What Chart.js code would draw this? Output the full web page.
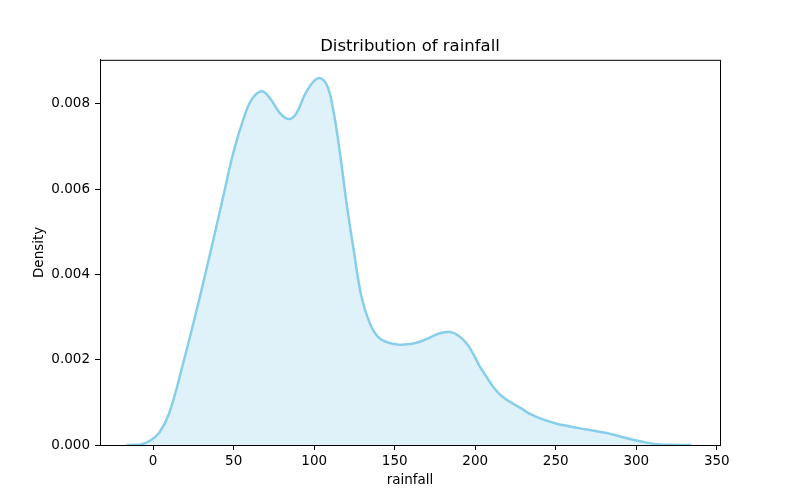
<!DOCTYPE html>
<html>
<head>
<meta charset="utf-8">
<script src="https://cdn.jsdelivr.net/npm/chart.js@4"></script>
<style>
    body { margin: 0; background: #fff; }
    #wrap { width: 800px; height: 500px; }
</style>
</head>
<body>
<div id="wrap"><canvas id="kdeChart" width="800" height="500"></canvas></div>
<script>
// KDE curve
const rainfall = [-16.5, -8, -2, 4, 10, 18.6, 29, 37.3, 43.5, 49.7, 55.9, 61.1, 67.3, 72.5, 78.7, 84.3, 89, 95.3, 102.5, 107.7, 111.8, 116, 120.1, 124.2, 129.4, 134.6, 139.8, 146, 153.2, 160, 165.6, 172, 178, 184.3, 189, 194.7, 199, 203, 207, 211.2, 216, 221.6, 228, 234, 242, 250.6, 258, 265, 273, 281.6, 290, 300.2, 307, 314.7, 322, 334];
const density = [0, 0.00001, 0.0001, 0.0003, 0.00075, 0.00191, 0.00347, 0.0048, 0.00582, 0.00684, 0.00762, 0.00809, 0.00829, 0.00813, 0.00778, 0.00764, 0.00778, 0.00829, 0.0086, 0.00845, 0.00786, 0.00684, 0.00567, 0.00465, 0.00347, 0.00285, 0.00253, 0.0024, 0.00235, 0.00237, 0.00242, 0.00252, 0.00262, 0.00265, 0.00258, 0.00238, 0.00212, 0.00183, 0.0016, 0.00136, 0.00116, 0.00101, 0.00087, 0.00073, 0.0006, 0.0005, 0.00044, 0.00039, 0.00034, 0.00028, 0.0002, 0.000106, 0.00005, 0.00001, 0.000003, 0];

const xTicks = [0, 50, 100, 150, 200, 250, 300, 350];
const yTicks = [0, 0.002, 0.004, 0.006, 0.008];

const points = rainfall.map((x, i) => ({ x: x, y: density[i] }));

// box around the plot area, like matplotlib spines
const frame = {
    id: 'frame',
    afterDraw(chart) {
        const a = chart.chartArea;
        const ctx = chart.ctx;
        ctx.save();
        ctx.strokeStyle = '#000';
        ctx.lineWidth = 1;
        ctx.strokeRect(a.left + 0.5, a.top + 0.5, a.right - a.left, a.bottom - a.top);
        ctx.restore();
    }
};

const font = 'DejaVu Sans';

new Chart(document.getElementById('kdeChart').getContext('2d'), {
    type: 'line',
    data: {
        datasets: [{
            data: points,
            borderColor: '#87CEEB',
            backgroundColor: 'rgba(135, 206, 235, 0.27)',
            borderWidth: 2.5,
            fill: 'origin',
            pointRadius: 0,
            tension: 0.4
        }]
    },
    options: {
        responsive: false,
        animation: false,
        layout: { padding: { left: 0, right: 80, top: 0, bottom: 0 } },
        plugins: {
            legend: { display: false },
            tooltip: { enabled: false },
            title: {
                display: true,
                text: 'Distribution of rainfall',
                fullSize: false,
                color: '#000',
                font: { family: font, size: 16.5, weight: 'normal' },
                padding: { top: 37, bottom: 3 }
            }
        },
        scales: {
            x: {
                type: 'linear',
                min: -33,
                max: 352,
                afterBuildTicks: s => { s.ticks = xTicks.map(v => ({ value: v })); },
                afterFit: s => { s.height = 55; },
                grid: { drawOnChartArea: false, drawTicks: true, tickLength: 5, color: '#000' },
                border: { display: true, color: '#000' },
                ticks: { color: '#000', padding: 3, maxRotation: 0, font: { family: font, size: 13.5 } },
                title: { display: true, text: 'rainfall', color: '#000', padding: { top: 0, bottom: 11 }, font: { family: font, size: 13.5 } }
            },
            y: {
                min: 0,
                max: 0.00903,
                afterBuildTicks: s => { s.ticks = yTicks.map(v => ({ value: v })); },
                afterFit: s => { s.width = 100; },
                grid: { drawOnChartArea: false, drawTicks: true, tickLength: 5, color: '#000' },
                border: { display: true, color: '#000' },
                ticks: { color: '#000', padding: 5, callback: v => v.toFixed(3), font: { family: font, size: 13.5 } },
                title: { display: true, text: 'Density', color: '#000', padding: { top: 31, bottom: 0 }, font: { family: font, size: 13.5 } }
            }
        }
    },
    plugins: [frame]
});
</script>
</body>
</html>
